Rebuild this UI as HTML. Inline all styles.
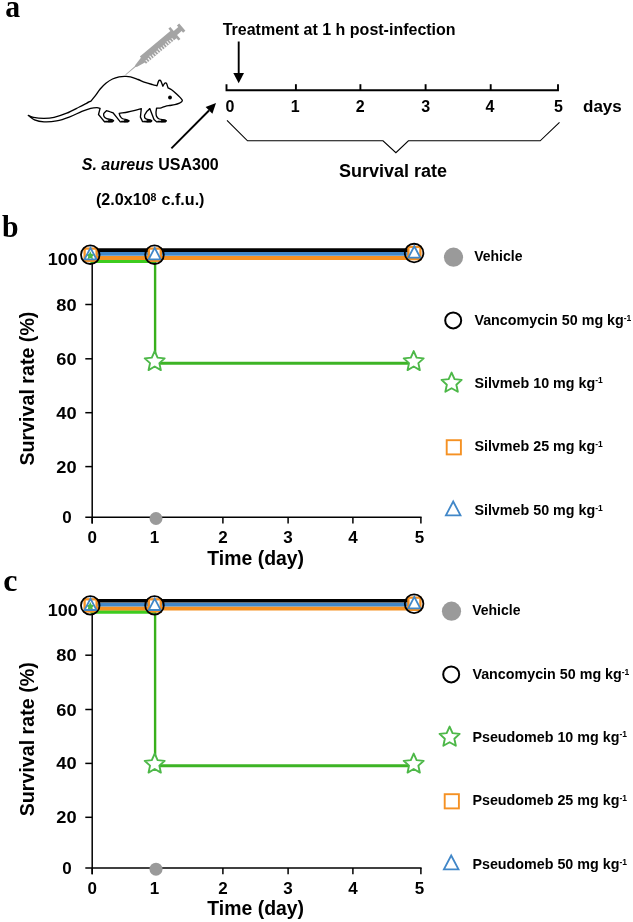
<!DOCTYPE html>
<html><head><meta charset="utf-8"><title>Survival figure</title>
<style>
html,body{margin:0;padding:0;background:#fff;}
body{width:633px;height:922px;overflow:hidden;font-family:"Liberation Sans", sans-serif;}
svg{display:block;}
text{filter:grayscale(1);}
</style></head>
<body>
<svg width="633" height="922" viewBox="0 0 633 922">
<rect width="633" height="922" fill="#fff"/>
<text transform="translate(5.2,16.9) scale(0.93,1)" font-family="'Liberation Serif', serif" font-size="32" font-weight="bold">a</text>
<text x="222.7" y="35.0" font-family="'Liberation Sans', sans-serif" font-size="16" font-weight="bold" text-anchor="start" >Treatment at 1 h post-infection</text>
<line x1="238.7" y1="41.5" x2="238.7" y2="74" stroke="#000" stroke-width="1.9"/>
<path d="M233.3,73 L244,73 L238.7,83.3 Z" fill="#000"/>
<path d="M226.5,84.2 L226.5,90.3 L558.0,90.3 L558.0,84.2" fill="none" stroke="#000" stroke-width="1.9"/>
<line x1="295.9" y1="84.2" x2="295.9" y2="90.3" stroke="#000" stroke-width="1.9"/>
<line x1="360.4" y1="84.2" x2="360.4" y2="90.3" stroke="#000" stroke-width="1.9"/>
<line x1="425.6" y1="84.2" x2="425.6" y2="90.3" stroke="#000" stroke-width="1.9"/>
<line x1="490.7" y1="84.2" x2="490.7" y2="90.3" stroke="#000" stroke-width="1.9"/>
<text x="230.0" y="112.2" font-family="'Liberation Sans', sans-serif" font-size="16" font-weight="bold" text-anchor="middle" >0</text>
<text x="295.2" y="112.2" font-family="'Liberation Sans', sans-serif" font-size="16" font-weight="bold" text-anchor="middle" >1</text>
<text x="360.2" y="112.2" font-family="'Liberation Sans', sans-serif" font-size="16" font-weight="bold" text-anchor="middle" >2</text>
<text x="425.7" y="112.2" font-family="'Liberation Sans', sans-serif" font-size="16" font-weight="bold" text-anchor="middle" >3</text>
<text x="489.9" y="112.2" font-family="'Liberation Sans', sans-serif" font-size="16" font-weight="bold" text-anchor="middle" >4</text>
<text x="558.5" y="112.2" font-family="'Liberation Sans', sans-serif" font-size="16" font-weight="bold" text-anchor="middle" >5</text>
<text x="583.0" y="112.4" font-family="'Liberation Sans', sans-serif" font-size="17" font-weight="bold" text-anchor="start" >days</text>
<path d="M227,120.4 L247.5,140.8 L383,140.8 L395.9,152.7 L408.4,140.8 L540.2,140.8 L559.5,122.4" fill="none" stroke="#000" stroke-width="1.1"/>
<text x="339.0" y="176.6" font-family="'Liberation Sans', sans-serif" font-size="18" font-weight="bold" text-anchor="start" >Survival rate</text>
<text x="81.8" y="169.5" font-family="'Liberation Sans', sans-serif" font-size="16" font-weight="bold" text-anchor="start" ><tspan font-style="italic">S. aureus</tspan> USA300</text>
<text x="96.0" y="205.0" font-family="'Liberation Sans', sans-serif" font-size="16" font-weight="bold" text-anchor="start" textLength="108.5" lengthAdjust="spacingAndGlyphs">(2.0x10<tspan font-size="10.5" dy="-4.4">8</tspan><tspan dy="4.4" dx="0.6"> c.f.u.)</tspan></text>
<line x1="171.4" y1="148.3" x2="209" y2="110.5" stroke="#000" stroke-width="1.9"/>
<path d="M216,103.1 L205.6,106.9 L212.4,113.8 Z" fill="#000"/>
<path d="M28.30,115.50 C30.03,116.13 30.88,116.93 33.50,117.40 C36.12,117.87 40.57,118.32 44.00,118.30 C47.43,118.28 50.32,118.15 54.10,117.30 C57.88,116.45 62.50,114.92 66.70,113.20 C70.90,111.48 76.00,108.65 79.30,107.00 C82.60,105.35 84.52,104.33 86.50,103.30 C88.48,102.27 89.63,101.63 91.20,100.80 C92.60,99.07 93.90,97.57 95.40,95.60 C96.90,93.63 98.45,91.05 100.20,89.00 C101.95,86.95 103.85,84.97 105.90,83.30 C107.95,81.63 110.30,80.08 112.50,79.00 C114.70,77.92 117.05,77.23 119.10,76.80 C121.15,76.37 122.90,76.40 124.80,76.40 C126.70,76.40 128.28,76.28 130.50,76.80 C132.72,77.32 135.68,78.58 138.10,79.50 C140.52,80.42 142.58,81.45 145.00,82.30 C147.42,83.15 150.60,84.02 152.60,84.60 C154.60,85.18 155.53,85.40 157.00,85.80 C157.53,84.23 158.15,82.02 158.60,81.10 C159.05,80.18 159.32,80.30 159.70,80.30 C160.08,80.30 160.37,80.12 160.90,81.10 C161.43,82.08 162.23,84.50 162.90,86.20 C163.40,85.33 163.97,84.15 164.40,83.60 C164.83,83.05 165.12,82.88 165.50,82.90 C165.88,82.92 166.28,82.88 166.70,83.70 C167.12,84.52 167.57,86.43 168.00,87.80 C169.20,88.43 170.22,88.72 171.60,89.70 C172.98,90.68 174.85,92.38 176.30,93.70 C177.75,95.02 179.30,96.50 180.30,97.60 C181.30,98.70 182.08,99.60 182.30,100.30 C182.52,101.00 182.07,101.32 181.60,101.80 C181.13,102.28 180.63,102.72 179.50,103.20 C178.37,103.68 176.52,104.32 174.80,104.70 C173.08,105.08 170.78,105.23 169.20,105.50 C167.62,105.77 166.62,105.92 165.30,106.30 C163.98,106.68 162.75,107.48 161.30,107.80 C159.85,108.12 158.17,108.07 156.60,108.20 C156.40,109.67 156.00,111.23 156.00,112.60 C156.00,113.97 156.07,115.33 156.60,116.40 C157.13,117.47 157.85,118.43 159.20,119.00 C160.55,119.57 162.87,119.53 164.70,119.80 C165.27,120.13 165.83,120.47 166.40,120.80 C166.07,121.17 165.73,121.53 165.40,121.90 C162.53,121.90 159.67,121.90 156.80,121.90 C155.87,121.13 154.93,120.37 154.00,119.60 C152.60,115.93 151.20,112.27 149.80,108.60 C148.87,109.47 147.93,110.33 147.00,111.20 C146.20,112.47 145.40,113.73 144.60,115.00 C144.63,115.87 144.37,116.90 144.70,117.60 C145.03,118.30 145.67,118.83 146.60,119.20 C147.53,119.57 149.07,119.60 150.30,119.80 C150.80,120.13 151.30,120.47 151.80,120.80 C151.47,121.17 151.13,121.53 150.80,121.90 C148.07,121.83 145.33,121.77 142.60,121.70 C141.87,120.17 141.13,118.63 140.40,117.10 C140.70,114.27 141.00,111.43 141.30,108.60 C139.20,109.17 137.23,109.73 135.00,110.30 C132.77,110.87 130.53,111.48 127.90,112.00 C125.27,112.52 122.10,112.93 119.20,113.40 C119.47,114.20 119.50,114.95 120.00,115.80 C120.50,116.65 121.00,117.83 122.20,118.50 C123.40,119.17 125.53,119.37 127.20,119.80 C127.83,120.17 128.47,120.53 129.10,120.90 C128.73,121.20 128.37,121.50 128.00,121.80 C125.43,121.80 122.87,121.80 120.30,121.80 C117.93,118.87 115.57,115.93 113.20,113.00 C111.77,112.47 110.03,111.78 108.90,111.40 C107.77,111.02 107.23,110.93 106.40,110.70 C105.53,111.67 104.18,112.62 103.80,113.60 C103.42,114.58 103.62,115.77 104.10,116.60 C104.58,117.43 105.32,118.07 106.70,118.60 C108.08,119.13 110.50,119.40 112.40,119.80 C112.80,120.13 113.20,120.47 113.60,120.80 C113.20,121.13 112.80,121.47 112.40,121.80 C109.77,121.80 107.13,121.80 104.50,121.80 C102.50,119.37 100.50,116.93 98.50,114.50 C99.03,112.43 99.57,110.37 100.10,108.30 C99.07,108.07 98.57,107.60 97.00,107.60 C95.43,107.60 93.22,107.67 90.70,108.30 C88.18,108.93 85.48,109.93 81.90,111.40 C78.32,112.87 73.42,115.52 69.20,117.10 C64.98,118.68 60.80,120.12 56.60,120.90 C52.40,121.68 47.68,121.98 44.00,121.80 C40.32,121.62 37.12,120.85 34.50,119.80 C31.88,118.75 30.37,116.93 28.30,115.50 Z" fill="#fff" stroke="#000" stroke-width="1.35" stroke-linejoin="round"/>
<line x1="105.5" y1="121.35" x2="112.30000000000001" y2="121.35" stroke="#000" stroke-width="1.2" stroke-linecap="round"/>
<path d="M108.7,120.2 L112.5,120.7 L112.5,121.6 L108.30000000000001,121.9 Z" fill="#000" stroke="#000" stroke-width="0.9" stroke-linejoin="round"/>
<line x1="121.5" y1="121.35" x2="128.1" y2="121.35" stroke="#000" stroke-width="1.2" stroke-linecap="round"/>
<path d="M124.49999999999999,120.2 L128.29999999999998,120.7 L128.29999999999998,121.6 L124.1,121.9 Z" fill="#000" stroke="#000" stroke-width="0.9" stroke-linejoin="round"/>
<line x1="143.7" y1="121.35" x2="150.70000000000002" y2="121.35" stroke="#000" stroke-width="1.2" stroke-linecap="round"/>
<path d="M147.10000000000002,120.2 L150.9,120.7 L150.9,121.6 L146.70000000000002,121.9 Z" fill="#000" stroke="#000" stroke-width="0.9" stroke-linejoin="round"/>
<line x1="157.9" y1="121.35" x2="165.1" y2="121.35" stroke="#000" stroke-width="1.2" stroke-linecap="round"/>
<path d="M161.5,120.2 L165.29999999999998,120.7 L165.29999999999998,121.6 L161.1,121.9 Z" fill="#000" stroke="#000" stroke-width="0.9" stroke-linejoin="round"/>
<circle cx="170" cy="97.5" r="1.9" fill="#000"/>
<g transform="translate(125.6,74.7) rotate(-40.0)" fill="#a4a4a4">
<path d="M0,-0.35 L12.5,-0.6 L14,-1.3 L22.6,-3.1 L22.6,-4.75 L62.4,-4.75 L62.4,-7.8 L65,-7.8 L65,-2.6 L71,-2.6 L71,-4.8 L74,-4.8 L74,4.8 L71,4.8 L71,2.6 L65,2.6 L65,7.8 L62.4,7.8 L62.4,4.75 L22.6,4.75 L22.6,3.1 L14,1.3 L12.5,0.6 L0,0.35 Z"/>
<rect x="24.40" y="1.70" width="1.05" height="3.30" fill="#fff"/>
<rect x="27.22" y="1.70" width="1.05" height="3.30" fill="#fff"/>
<rect x="30.04" y="0.90" width="1.05" height="4.10" fill="#fff"/>
<rect x="32.86" y="1.70" width="1.05" height="3.30" fill="#fff"/>
<rect x="35.68" y="1.70" width="1.05" height="3.30" fill="#fff"/>
<rect x="38.50" y="1.70" width="1.05" height="3.30" fill="#fff"/>
<rect x="41.32" y="0.90" width="1.05" height="4.10" fill="#fff"/>
<rect x="44.14" y="1.70" width="1.05" height="3.30" fill="#fff"/>
<rect x="46.96" y="1.70" width="1.05" height="3.30" fill="#fff"/>
<rect x="49.78" y="1.70" width="1.05" height="3.30" fill="#fff"/>
<rect x="52.60" y="0.90" width="1.05" height="4.10" fill="#fff"/>
<rect x="55.42" y="1.70" width="1.05" height="3.30" fill="#fff"/>
<rect x="58.24" y="1.70" width="1.05" height="3.30" fill="#fff"/>
</g>
<g transform="translate(0,0)">
<line x1="92.2" y1="255" x2="92.2" y2="523.6" stroke="#000" stroke-width="1.5"/>
<line x1="85.3" y1="517.2" x2="421.6" y2="517.2" stroke="#000" stroke-width="1.5"/>
<line x1="85.3" y1="304.5" x2="92.2" y2="304.5" stroke="#000" stroke-width="1.5"/>
<line x1="85.3" y1="358.8" x2="92.2" y2="358.8" stroke="#000" stroke-width="1.5"/>
<line x1="85.3" y1="412.7" x2="92.2" y2="412.7" stroke="#000" stroke-width="1.5"/>
<line x1="85.3" y1="466.6" x2="92.2" y2="466.6" stroke="#000" stroke-width="1.5"/>
<line x1="92.2" y1="517.2" x2="92.2" y2="523.6" stroke="#000" stroke-width="1.5"/>
<text x="92.2" y="543.3" font-family="'Liberation Sans', sans-serif" font-size="17" font-weight="bold" text-anchor="middle" >0</text>
<line x1="156.0" y1="517.2" x2="156.0" y2="523.6" stroke="#000" stroke-width="1.5"/>
<text x="154.5" y="543.3" font-family="'Liberation Sans', sans-serif" font-size="17" font-weight="bold" text-anchor="middle" >1</text>
<line x1="222.9" y1="517.2" x2="222.9" y2="523.6" stroke="#000" stroke-width="1.5"/>
<text x="222.9" y="543.3" font-family="'Liberation Sans', sans-serif" font-size="17" font-weight="bold" text-anchor="middle" >2</text>
<line x1="288.1" y1="517.2" x2="288.1" y2="523.6" stroke="#000" stroke-width="1.5"/>
<text x="288.1" y="543.3" font-family="'Liberation Sans', sans-serif" font-size="17" font-weight="bold" text-anchor="middle" >3</text>
<line x1="352.9" y1="517.2" x2="352.9" y2="523.6" stroke="#000" stroke-width="1.5"/>
<text x="352.9" y="543.3" font-family="'Liberation Sans', sans-serif" font-size="17" font-weight="bold" text-anchor="middle" >4</text>
<line x1="420.9" y1="517.2" x2="420.9" y2="523.6" stroke="#000" stroke-width="1.5"/>
<text x="419.59999999999997" y="543.3" font-family="'Liberation Sans', sans-serif" font-size="17" font-weight="bold" text-anchor="middle" >5</text>
<text x="76.6" y="310.6" font-family="'Liberation Sans', sans-serif" font-size="17" font-weight="bold" text-anchor="end" textLength="20.3" lengthAdjust="spacingAndGlyphs">80</text>
<text x="76.6" y="364.90000000000003" font-family="'Liberation Sans', sans-serif" font-size="17" font-weight="bold" text-anchor="end" textLength="20.3" lengthAdjust="spacingAndGlyphs">60</text>
<text x="76.6" y="418.8" font-family="'Liberation Sans', sans-serif" font-size="17" font-weight="bold" text-anchor="end" textLength="20.3" lengthAdjust="spacingAndGlyphs">40</text>
<text x="76.6" y="472.70000000000005" font-family="'Liberation Sans', sans-serif" font-size="17" font-weight="bold" text-anchor="end" textLength="20.3" lengthAdjust="spacingAndGlyphs">20</text>
<text x="77.8" y="264.6" font-family="'Liberation Sans', sans-serif" font-size="17" font-weight="bold" text-anchor="end" textLength="30.0" lengthAdjust="spacingAndGlyphs">100</text>
<text x="71.8" y="523.1" font-family="'Liberation Sans', sans-serif" font-size="17" font-weight="bold" text-anchor="end" >0</text>
<text x="207.3" y="565.1" font-family="'Liberation Sans', sans-serif" font-size="20" font-weight="bold" text-anchor="start" textLength="96.8" lengthAdjust="spacingAndGlyphs">Time (day)</text>
<text transform="translate(34.0,465.6) rotate(-90)" font-family="'Liberation Sans', sans-serif" font-size="20" font-weight="bold" textLength="154" lengthAdjust="spacingAndGlyphs">Survival rate (%)</text>
<line x1="90.3" y1="261.3" x2="156.0" y2="261.3" stroke="#3dcc1f" stroke-width="3.6"/>
<line x1="155.10000000000002" y1="259.6" x2="155.10000000000002" y2="364.7" stroke="#38b01b" stroke-width="2.4"/>
<line x1="155.10000000000002" y1="363.3" x2="414.1" y2="363.3" stroke="#3db425" stroke-width="2.9"/>
<line x1="90.3" y1="257.9" x2="414.1" y2="257.9" stroke="#f59123" stroke-width="4"/>
<line x1="90.3" y1="253.9" x2="414.1" y2="253.9" stroke="#4187c8" stroke-width="3.9"/>
<line x1="90.3" y1="250.1" x2="414.1" y2="250.1" stroke="#000" stroke-width="3.6"/>
<circle cx="156" cy="518.5" r="6.5" fill="#9a9a9a"/>
<rect x="84.60" y="248.60" width="12.0" height="12.2" fill="#fff" stroke="#f59123" stroke-width="2.3"/>
<path d="M90.30,251.30 L91.59,254.12 L94.67,254.48 L92.39,256.58 L93.00,259.62 L90.30,258.10 L87.60,259.62 L88.21,256.58 L85.93,254.48 L89.01,254.12 Z" fill="#4db848"/>
<path d="M90.50,247.90 L96.50,259.30 L84.50,259.30 Z" fill="none" stroke="#4187c8" stroke-width="1.8" stroke-linejoin="miter"/>
<circle cx="90.3" cy="254.7" r="9.3" fill="none" stroke="#000" stroke-width="1.8"/>
<rect x="148.80" y="248.60" width="12.0" height="12.2" fill="#fff" stroke="#f59123" stroke-width="2.3"/>
<path d="M154.70,247.90 L160.70,259.30 L148.70,259.30 Z" fill="none" stroke="#4187c8" stroke-width="1.8" stroke-linejoin="miter"/>
<circle cx="154.5" cy="254.7" r="9.3" fill="none" stroke="#000" stroke-width="1.8"/>
<rect x="408.40" y="246.95" width="12.0" height="12.2" fill="#fff" stroke="#f59123" stroke-width="2.3"/>
<path d="M414.30,246.25 L420.30,257.65 L408.30,257.65 Z" fill="none" stroke="#4187c8" stroke-width="1.8" stroke-linejoin="miter"/>
<circle cx="414.1" cy="253.05" r="9.3" fill="none" stroke="#000" stroke-width="1.8"/>
<path d="M154.70,351.10 L157.58,357.64 L164.69,358.36 L159.36,363.11 L160.87,370.09 L154.70,366.50 L148.53,370.09 L150.04,363.11 L144.71,358.36 L151.82,357.64 Z" fill="#fff" stroke="#4db848" stroke-width="1.9" stroke-linejoin="round"/>
<path d="M413.70,351.10 L416.58,357.64 L423.69,358.36 L418.36,363.11 L419.87,370.09 L413.70,366.50 L407.53,370.09 L409.04,363.11 L403.71,358.36 L410.82,357.64 Z" fill="#fff" stroke="#4db848" stroke-width="1.9" stroke-linejoin="round"/>
</g>
<text transform="translate(1.9,236.7) scale(0.93,1)" font-family="'Liberation Serif', serif" font-size="32" font-weight="bold">b</text>
<g transform="translate(0,0)">
<circle cx="453.5" cy="257.2" r="9.6" fill="#9a9a9a"/>
<text x="474.2" y="261.1" font-family="'Liberation Sans', sans-serif" font-size="14" font-weight="bold" text-anchor="start" >Vehicle</text>
<circle cx="453.2" cy="320.4" r="8.0" fill="none" stroke="#000" stroke-width="2"/>
<text x="474.4" y="325.1" font-family="'Liberation Sans', sans-serif" font-size="14.3" font-weight="bold" text-anchor="start" >Vancomycin 50 mg kg<tspan font-size="8.5" dy="-4.5">-1</tspan></text>
<path d="M451.60,372.60 L454.54,379.15 L461.68,379.92 L456.36,384.75 L457.83,391.78 L451.60,388.20 L445.37,391.78 L446.84,384.75 L441.52,379.92 L448.66,379.15 Z" fill="#fff" stroke="#4db848" stroke-width="1.9" stroke-linejoin="round"/>
<text x="474.4" y="387.6" font-family="'Liberation Sans', sans-serif" font-size="14.3" font-weight="bold" text-anchor="start" >Silvmeb 10 mg kg<tspan font-size="8.5" dy="-4.5">-1</tspan></text>
<rect x="446.7" y="440.2" width="14.2" height="14.2" fill="#fff" stroke="#f59123" stroke-width="1.9"/>
<text x="474.4" y="451.3" font-family="'Liberation Sans', sans-serif" font-size="14.3" font-weight="bold" text-anchor="start" >Silvmeb 25 mg kg<tspan font-size="8.5" dy="-4.5">-1</tspan></text>
<path d="M453.20,501.50 L460.50,515.30 L445.90,515.30 Z" fill="none" stroke="#4187c8" stroke-width="1.8"/>
<text x="474.4" y="515.0" font-family="'Liberation Sans', sans-serif" font-size="14.3" font-weight="bold" text-anchor="start" >Silvmeb 50 mg kg<tspan font-size="8.5" dy="-4.5">-1</tspan></text>
</g>
<g transform="translate(0,350.7)">
<line x1="92.2" y1="255" x2="92.2" y2="523.6" stroke="#000" stroke-width="1.5"/>
<line x1="85.3" y1="517.2" x2="421.6" y2="517.2" stroke="#000" stroke-width="1.5"/>
<line x1="85.3" y1="304.5" x2="92.2" y2="304.5" stroke="#000" stroke-width="1.5"/>
<line x1="85.3" y1="358.8" x2="92.2" y2="358.8" stroke="#000" stroke-width="1.5"/>
<line x1="85.3" y1="412.7" x2="92.2" y2="412.7" stroke="#000" stroke-width="1.5"/>
<line x1="85.3" y1="466.6" x2="92.2" y2="466.6" stroke="#000" stroke-width="1.5"/>
<line x1="92.2" y1="517.2" x2="92.2" y2="523.6" stroke="#000" stroke-width="1.5"/>
<text x="92.2" y="543.3" font-family="'Liberation Sans', sans-serif" font-size="17" font-weight="bold" text-anchor="middle" >0</text>
<line x1="156.0" y1="517.2" x2="156.0" y2="523.6" stroke="#000" stroke-width="1.5"/>
<text x="154.5" y="543.3" font-family="'Liberation Sans', sans-serif" font-size="17" font-weight="bold" text-anchor="middle" >1</text>
<line x1="222.9" y1="517.2" x2="222.9" y2="523.6" stroke="#000" stroke-width="1.5"/>
<text x="222.9" y="543.3" font-family="'Liberation Sans', sans-serif" font-size="17" font-weight="bold" text-anchor="middle" >2</text>
<line x1="288.1" y1="517.2" x2="288.1" y2="523.6" stroke="#000" stroke-width="1.5"/>
<text x="288.1" y="543.3" font-family="'Liberation Sans', sans-serif" font-size="17" font-weight="bold" text-anchor="middle" >3</text>
<line x1="352.9" y1="517.2" x2="352.9" y2="523.6" stroke="#000" stroke-width="1.5"/>
<text x="352.9" y="543.3" font-family="'Liberation Sans', sans-serif" font-size="17" font-weight="bold" text-anchor="middle" >4</text>
<line x1="420.9" y1="517.2" x2="420.9" y2="523.6" stroke="#000" stroke-width="1.5"/>
<text x="419.59999999999997" y="543.3" font-family="'Liberation Sans', sans-serif" font-size="17" font-weight="bold" text-anchor="middle" >5</text>
<text x="76.6" y="310.6" font-family="'Liberation Sans', sans-serif" font-size="17" font-weight="bold" text-anchor="end" textLength="20.3" lengthAdjust="spacingAndGlyphs">80</text>
<text x="76.6" y="364.90000000000003" font-family="'Liberation Sans', sans-serif" font-size="17" font-weight="bold" text-anchor="end" textLength="20.3" lengthAdjust="spacingAndGlyphs">60</text>
<text x="76.6" y="418.8" font-family="'Liberation Sans', sans-serif" font-size="17" font-weight="bold" text-anchor="end" textLength="20.3" lengthAdjust="spacingAndGlyphs">40</text>
<text x="76.6" y="472.70000000000005" font-family="'Liberation Sans', sans-serif" font-size="17" font-weight="bold" text-anchor="end" textLength="20.3" lengthAdjust="spacingAndGlyphs">20</text>
<text x="77.8" y="265.40000000000003" font-family="'Liberation Sans', sans-serif" font-size="17" font-weight="bold" text-anchor="end" textLength="30.0" lengthAdjust="spacingAndGlyphs">100</text>
<text x="71.8" y="523.1" font-family="'Liberation Sans', sans-serif" font-size="17" font-weight="bold" text-anchor="end" >0</text>
<text x="207.3" y="564.4" font-family="'Liberation Sans', sans-serif" font-size="20" font-weight="bold" text-anchor="start" textLength="96.8" lengthAdjust="spacingAndGlyphs">Time (day)</text>
<text transform="translate(34.0,465.6) rotate(-90)" font-family="'Liberation Sans', sans-serif" font-size="20" font-weight="bold" textLength="154" lengthAdjust="spacingAndGlyphs">Survival rate (%)</text>
<line x1="90.3" y1="261.3" x2="156.0" y2="261.3" stroke="#3dcc1f" stroke-width="3.6"/>
<line x1="155.10000000000002" y1="259.6" x2="155.10000000000002" y2="416.49999999999994" stroke="#38b01b" stroke-width="2.4"/>
<line x1="155.10000000000002" y1="415.09999999999997" x2="414.1" y2="415.09999999999997" stroke="#3db425" stroke-width="2.9"/>
<line x1="90.3" y1="257.9" x2="414.1" y2="257.9" stroke="#f59123" stroke-width="4"/>
<line x1="90.3" y1="253.9" x2="414.1" y2="253.9" stroke="#4187c8" stroke-width="3.9"/>
<line x1="90.3" y1="250.1" x2="414.1" y2="250.1" stroke="#000" stroke-width="3.6"/>
<circle cx="156" cy="518.5" r="6.5" fill="#9a9a9a"/>
<rect x="84.60" y="248.60" width="12.0" height="12.2" fill="#fff" stroke="#f59123" stroke-width="2.3"/>
<path d="M90.30,251.30 L91.59,254.12 L94.67,254.48 L92.39,256.58 L93.00,259.62 L90.30,258.10 L87.60,259.62 L88.21,256.58 L85.93,254.48 L89.01,254.12 Z" fill="#4db848"/>
<path d="M90.50,247.90 L96.50,259.30 L84.50,259.30 Z" fill="none" stroke="#4187c8" stroke-width="1.8" stroke-linejoin="miter"/>
<circle cx="90.3" cy="254.7" r="9.3" fill="none" stroke="#000" stroke-width="1.8"/>
<rect x="148.80" y="248.60" width="12.0" height="12.2" fill="#fff" stroke="#f59123" stroke-width="2.3"/>
<path d="M154.70,247.90 L160.70,259.30 L148.70,259.30 Z" fill="none" stroke="#4187c8" stroke-width="1.8" stroke-linejoin="miter"/>
<circle cx="154.5" cy="254.7" r="9.3" fill="none" stroke="#000" stroke-width="1.8"/>
<rect x="408.40" y="246.95" width="12.0" height="12.2" fill="#fff" stroke="#f59123" stroke-width="2.3"/>
<path d="M414.30,246.25 L420.30,257.65 L408.30,257.65 Z" fill="none" stroke="#4187c8" stroke-width="1.8" stroke-linejoin="miter"/>
<circle cx="414.1" cy="253.05" r="9.3" fill="none" stroke="#000" stroke-width="1.8"/>
<path d="M154.70,402.90 L157.58,409.44 L164.69,410.16 L159.36,414.91 L160.87,421.89 L154.70,418.30 L148.53,421.89 L150.04,414.91 L144.71,410.16 L151.82,409.44 Z" fill="#fff" stroke="#4db848" stroke-width="1.9" stroke-linejoin="round"/>
<path d="M413.70,402.90 L416.58,409.44 L423.69,410.16 L418.36,414.91 L419.87,421.89 L413.70,418.30 L407.53,421.89 L409.04,414.91 L403.71,410.16 L410.82,409.44 Z" fill="#fff" stroke="#4db848" stroke-width="1.9" stroke-linejoin="round"/>
</g>
<text transform="translate(3.3,590.6) scale(1.0,1)" font-family="'Liberation Serif', serif" font-size="32" font-weight="bold">c</text>
<g transform="translate(-2.0,354.0)">
<circle cx="453.5" cy="257.2" r="9.6" fill="#9a9a9a"/>
<text x="474.2" y="261.1" font-family="'Liberation Sans', sans-serif" font-size="14" font-weight="bold" text-anchor="start" >Vehicle</text>
<circle cx="453.2" cy="320.4" r="8.0" fill="none" stroke="#000" stroke-width="2"/>
<text x="474.4" y="325.1" font-family="'Liberation Sans', sans-serif" font-size="14.3" font-weight="bold" text-anchor="start" >Vancomycin 50 mg kg<tspan font-size="8.5" dy="-4.5">-1</tspan></text>
<path d="M451.60,372.60 L454.54,379.15 L461.68,379.92 L456.36,384.75 L457.83,391.78 L451.60,388.20 L445.37,391.78 L446.84,384.75 L441.52,379.92 L448.66,379.15 Z" fill="#fff" stroke="#4db848" stroke-width="1.9" stroke-linejoin="round"/>
<text x="474.4" y="387.6" font-family="'Liberation Sans', sans-serif" font-size="14.3" font-weight="bold" text-anchor="start" >Pseudomeb 10 mg kg<tspan font-size="8.5" dy="-4.5">-1</tspan></text>
<rect x="446.7" y="440.2" width="14.2" height="14.2" fill="#fff" stroke="#f59123" stroke-width="1.9"/>
<text x="474.4" y="451.3" font-family="'Liberation Sans', sans-serif" font-size="14.3" font-weight="bold" text-anchor="start" >Pseudomeb 25 mg kg<tspan font-size="8.5" dy="-4.5">-1</tspan></text>
<path d="M453.20,501.50 L460.50,515.30 L445.90,515.30 Z" fill="none" stroke="#4187c8" stroke-width="1.8"/>
<text x="474.4" y="515.0" font-family="'Liberation Sans', sans-serif" font-size="14.3" font-weight="bold" text-anchor="start" >Pseudomeb 50 mg kg<tspan font-size="8.5" dy="-4.5">-1</tspan></text>
</g>
</svg>
</body></html>
